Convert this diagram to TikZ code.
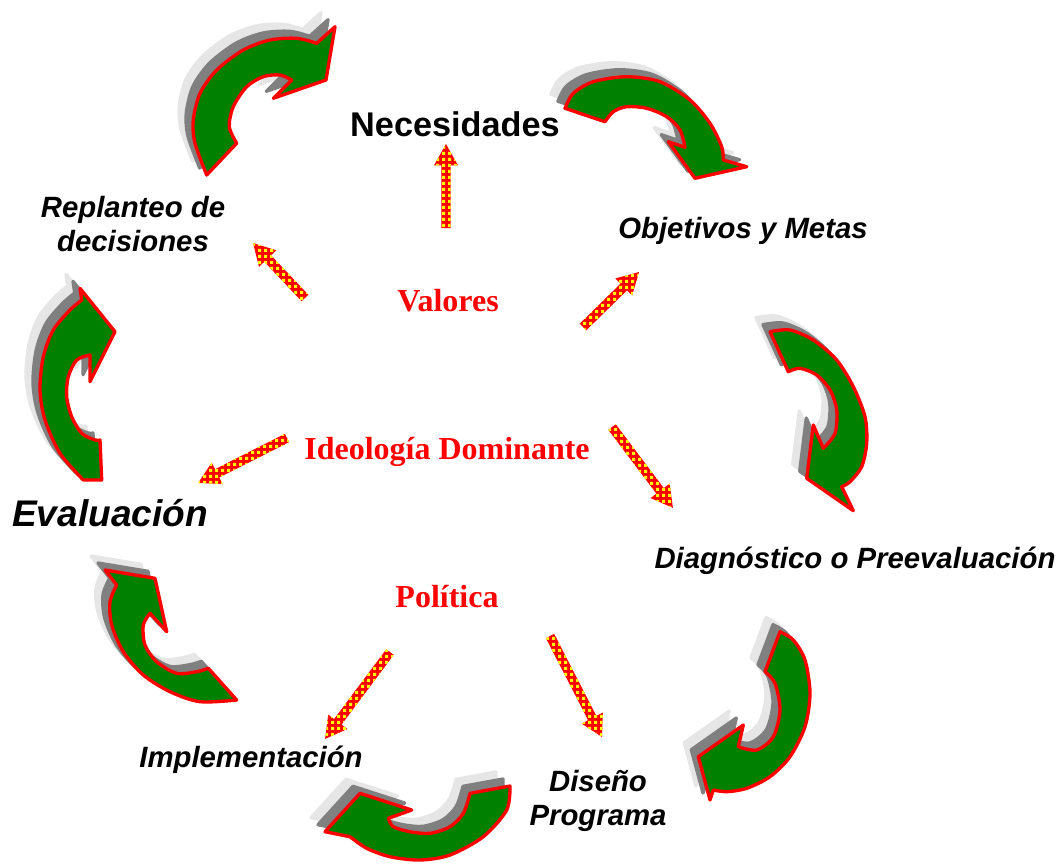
\documentclass[tikz,border=0pt]{standalone}
\usepackage{fontspec}
\newfontfamily\sansf{Liberation Sans}
\newfontfamily\seriff{Liberation Serif}
\usetikzlibrary{patterns}
\pgfdeclarepatternformonly{ydots}{\pgfqpoint{0pt}{0pt}}{\pgfqpoint{4.6pt}{4.6pt}}{\pgfqpoint{4.6pt}{4.6pt}}{\pgfpathrectangle{\pgfqpoint{1pt}{1pt}}{\pgfqpoint{2.5pt}{2.5pt}}\pgfusepath{fill}}
\definecolor{arrgreen}{HTML}{008000}
\definecolor{arrred}{HTML}{FF0000}
\definecolor{shgray}{HTML}{808080}
\definecolor{shlight}{HTML}{E6E6E6}
\tikzset{
  lab/.style={font=\sansf\bfseries\itshape\fontsize{22}{26}\selectfont, text=black, inner sep=0pt, align=center},
  redlab/.style={font=\seriff\bfseries\fontsize{24}{28}\selectfont, text=arrred, inner sep=0pt},
  arrmain/.style={fill=arrgreen, draw=arrred, line width=2.5pt, line join=round},
  arrgray/.style={fill=shgray, draw=shgray, line width=2.5pt, line join=round, shift={(-7,-7)}},
  arrlight/.style={fill=shlight, draw=shlight, line width=2.5pt, line join=round, shift={(-14,-14)}},
  pA/.style={insert path={(206.7,175) -- plot[smooth] coordinates {(206.7,175) (195,143.3) (193.3,120) (200,93.3) (216.7,70) (243.3,50) (270,40) (296.7,38.3) (316.7,43.3)} -- (335,26.7) -- (326,80) -- (273.3,98.3) -- (291.7,80) -- plot[smooth] coordinates {(291.7,80) (280,75) (263.3,76.7) (246.7,86.7) (233.3,106.7) (229.3,126.7) (236.7,143.3)} -- cycle}},
  pB/.style={insert path={(565,108.3) -- plot[smooth] coordinates {(565,108.3) (573.3,93.3) (593.3,81.7) (626.7,76.7) (660,81.7) (690,100) (710,123.3) (721.7,146.7) (723.3,160)} -- (746.7,166.7) -- (695,178.3) -- (668.3,141.7) -- (685,147.3) -- plot[smooth] coordinates {(685,147.3) (680,130) (666.7,116.7) (646.7,108.3) (626.7,106.7) (613.3,111.7) (605,121.7)} -- cycle}},
  pC/.style={insert path={(770,331.7) -- plot[smooth] coordinates {(770,331.7) (790,330) (813.3,340) (836.7,360) (853.3,386.7) (865,416.7) (866.7,443.3) (861.7,466.7) (850,481.7) (841.7,486.7)} -- (853.3,510.7) -- (806.7,478.3) -- (813.3,425) -- (823.3,448.3) -- plot[smooth] coordinates {(823.3,448.3) (835,433.3) (836.7,410) (830,390) (816.7,375) (800,368.3) (788.3,371.7)} -- cycle}},
  pD/.style={insert path={(83.3,480) -- plot[smooth] coordinates {(83.3,480) (60,453.3) (45,420) (40,390) (43.3,356.7) (53.3,330) (70,310) (81.7,300)} -- (80,288.3) -- (115,331.7) -- (90,381.7) -- (90,355) -- plot[smooth] coordinates {(90,355) (76.7,360) (68.3,376.7) (66.7,396.7) (71.7,416.7) (81.7,433.3) (95,440) (100,440)} -- (101.7,480) -- cycle}},
  pE/.style={insert path={(236.7,700) -- plot[smooth] coordinates {(236.7,700) (200,701.7) (170,691.7) (143.3,675) (123.3,651.7) (111.7,625) (110,601.7) (116.7,585)} -- (105,570) -- (155,578.3) -- (166.7,631.7) -- (150,613.3) -- plot[smooth] coordinates {(150,613.3) (143.3,625) (145,645) (156.7,661.7) (176.7,673.3) (196.7,671.7) (208.3,668.3)} -- cycle}},
  pF/.style={insert path={(780,631.7) -- plot[smooth] coordinates {(780,631.7) (793.3,640) (805,660) (810,693.3) (805,726.7) (790,756.7) (770,776.7) (746.7,788.3) (726.7,791.7) (713.3,790)} -- (710,800) -- (698.3,756.7) -- (743.3,725) -- (738.3,746.7) -- plot[smooth] coordinates {(738.3,746.7) (756.7,750) (773.3,736.7) (780,710) (775,683.3) (765,671.7)} -- cycle}},
  pG/.style={insert path={(510,786) -- plot[smooth] coordinates {(510,786) (506.7,810) (483.3,836.7) (450,855) (420,860) (390,856.7) (366.7,848.3) (350,836.7)} -- (325,831.7) -- (360,793.3) -- (411.7,810) -- (388.3,818.3) -- plot[smooth] coordinates {(388.3,818.3) (393.3,826.7) (410,831.7) (430,833.3) (450,826.7) (463.3,813.3) (470,793.3)} -- cycle}},
}
\newcommand\curvedarrow[1]{%
  \path[arrlight, #1];
  \path[arrgray, #1];
  \path[arrmain, #1];
}
\newcommand\dotarrow[2]{%
  \path (#1); \pgfgetlastxy{\dax}{\day}%
  \path (#2); \pgfgetlastxy{\dbx}{\dby}%
  \pgfmathsetmacro\dang{atan2(\dby-\day,\dbx-\dax)}%
  \pgfmathsetmacro\dlen{veclen(\dbx-\dax,\dby-\day)}%
  \begin{scope}[shift={(\dax,\day)}, rotate=\dang]
    \fill[arrred] (0pt,-3.5pt) -- ({\dlen pt-16pt},-3.5pt) -- ({\dlen pt-16pt},-9pt) -- (\dlen pt,0pt) -- ({\dlen pt-16pt},9pt) -- ({\dlen pt-16pt},3.5pt) -- (0pt,3.5pt) -- cycle;
    \fill[pattern=ydots, pattern color=yellow] (0pt,-3.5pt) -- ({\dlen pt-16pt},-3.5pt) -- ({\dlen pt-16pt},-9pt) -- (\dlen pt,0pt) -- ({\dlen pt-16pt},9pt) -- ({\dlen pt-16pt},3.5pt) -- (0pt,3.5pt) -- cycle;
  \end{scope}}
\begin{document}
\begin{tikzpicture}[x=0.75pt, y=-0.75pt]
\useasboundingbox (0,0) rectangle (1060,865);
% curved arrows
\curvedarrow{pA}
\curvedarrow{pB}
\curvedarrow{pC}
\curvedarrow{pD}
\curvedarrow{pE}
\curvedarrow{pF}
\curvedarrow{pG}
% labels
\node[lab, font=\sansf\bfseries\fontsize{25.7}{30}\selectfont, anchor=base] (necesidades) at (455,136) {Necesidades};
\node[lab, anchor=base] (objetivos) at (743,238) {Objetivos y Metas};
\node[lab] (replanteo) at (133,224) {Replanteo de\\decisiones};
\node[lab, font=\sansf\bfseries\itshape\fontsize{27.8}{32}\selectfont, anchor=base] (evaluacion) at (110,526) {Evaluación};
\node[lab, anchor=base] (diagnostico) at (855,568) {Diagnóstico o Preevaluación};
\node[lab, anchor=base] (implementacion) at (251,767) {Implementación};
\node[lab] (diseno) at (598,801) {Diseño\\Programa};
\node[redlab, anchor=base] (valores) at (448,311) {Valores};
\node[redlab, anchor=base] (ideologia) at (447,459) {Ideología Dominante};
\node[redlab, anchor=base] (politica) at (447,607) {Política};
% dotted arrows
\coordinate (a1s) at (446,228); \coordinate (a1e) at (446,144);
\coordinate (a2s) at (583,327); \coordinate (a2e) at (639,272);
\coordinate (a3s) at (305,298); \coordinate (a3e) at (253,243);
\coordinate (a4s) at (287,438); \coordinate (a4e) at (198,483);
\coordinate (a5s) at (612,427); \coordinate (a5e) at (673,508);
\coordinate (a6s) at (390,652); \coordinate (a6e) at (325,739);
\coordinate (a7s) at (550,636); \coordinate (a7e) at (602,737);
\dotarrow{a1s}{a1e}
\dotarrow{a2s}{a2e}
\dotarrow{a3s}{a3e}
\dotarrow{a4s}{a4e}
\dotarrow{a5s}{a5e}
\dotarrow{a6s}{a6e}
\dotarrow{a7s}{a7e}
\end{tikzpicture}
\end{document}
